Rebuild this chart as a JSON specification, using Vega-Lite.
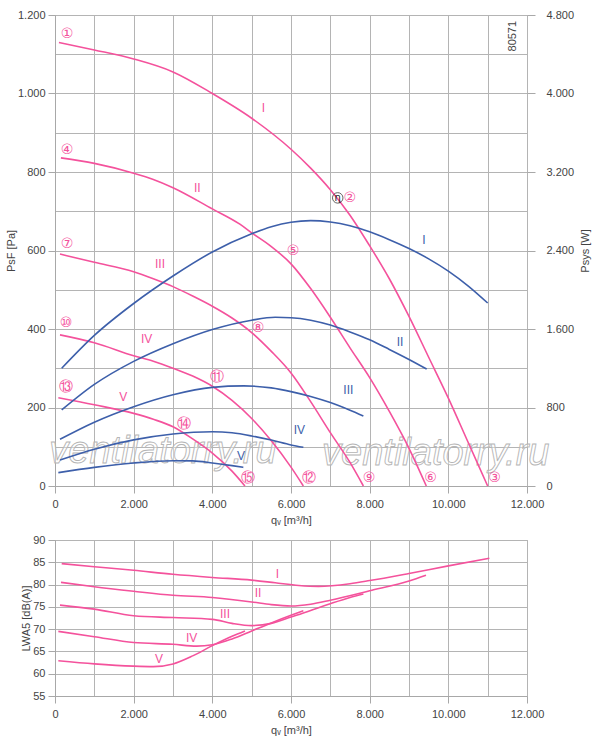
{
  "$schema": "https://vega.github.io/schema/vega-lite/v6.json",
  "background": "white",
  "padding": {"left": 4, "top": 8, "right": 3, "bottom": 5},
  "spacing": 7,
  "datasets": {
    "pres": [
      {"c": "I", "q": 100, "p": 1130}, {"c": "I", "q": 1000, "p": 1111}, {"c": "I", "q": 2000, "p": 1088}, {"c": "I", "q": 3000, "p": 1055}, {"c": "I", "q": 4000, "p": 1000}, {"c": "I", "q": 5000, "p": 937}, {"c": "I", "q": 6000, "p": 858}, {"c": "I", "q": 6500, "p": 810}, {"c": "I", "q": 7000, "p": 755}, {"c": "I", "q": 7500, "p": 690}, {"c": "I", "q": 8000, "p": 612}, {"c": "I", "q": 8500, "p": 528}, {"c": "I", "q": 9000, "p": 432}, {"c": "I", "q": 9500, "p": 328}, {"c": "I", "q": 10000, "p": 224}, {"c": "I", "q": 10500, "p": 112}, {"c": "I", "q": 11000, "p": 0},
      {"c": "II", "q": 150, "p": 836}, {"c": "II", "q": 1000, "p": 822}, {"c": "II", "q": 2000, "p": 797}, {"c": "II", "q": 2500, "p": 781}, {"c": "II", "q": 3000, "p": 760}, {"c": "II", "q": 4000, "p": 706}, {"c": "II", "q": 4700, "p": 667}, {"c": "II", "q": 5000, "p": 645}, {"c": "II", "q": 5500, "p": 610}, {"c": "II", "q": 6000, "p": 566}, {"c": "II", "q": 6500, "p": 503}, {"c": "II", "q": 7000, "p": 430}, {"c": "II", "q": 7500, "p": 352}, {"c": "II", "q": 8000, "p": 276}, {"c": "II", "q": 8500, "p": 190}, {"c": "II", "q": 9000, "p": 96}, {"c": "II", "q": 9440, "p": 0},
      {"c": "III", "q": 127, "p": 591}, {"c": "III", "q": 1000, "p": 570}, {"c": "III", "q": 2000, "p": 546}, {"c": "III", "q": 2500, "p": 528}, {"c": "III", "q": 3000, "p": 508}, {"c": "III", "q": 3500, "p": 484}, {"c": "III", "q": 4000, "p": 458}, {"c": "III", "q": 4500, "p": 428}, {"c": "III", "q": 5000, "p": 391}, {"c": "III", "q": 5500, "p": 343}, {"c": "III", "q": 6000, "p": 288}, {"c": "III", "q": 6500, "p": 215}, {"c": "III", "q": 7000, "p": 136}, {"c": "III", "q": 7500, "p": 60}, {"c": "III", "q": 7840, "p": 0},
      {"c": "IV", "q": 127, "p": 385}, {"c": "IV", "q": 1000, "p": 365}, {"c": "IV", "q": 2000, "p": 332}, {"c": "IV", "q": 2500, "p": 318}, {"c": "IV", "q": 3000, "p": 300}, {"c": "IV", "q": 3500, "p": 280}, {"c": "IV", "q": 4000, "p": 254}, {"c": "IV", "q": 4500, "p": 218}, {"c": "IV", "q": 5000, "p": 172}, {"c": "IV", "q": 5500, "p": 115}, {"c": "IV", "q": 6000, "p": 48}, {"c": "IV", "q": 6314, "p": 0},
      {"c": "V", "q": 85, "p": 225}, {"c": "V", "q": 1000, "p": 207}, {"c": "V", "q": 2000, "p": 185}, {"c": "V", "q": 2500, "p": 170}, {"c": "V", "q": 3000, "p": 151}, {"c": "V", "q": 3500, "p": 120}, {"c": "V", "q": 4000, "p": 84}, {"c": "V", "q": 4500, "p": 38}, {"c": "V", "q": 4830, "p": 0}
    ],
    "pow": [
      {"c": "I", "q": 170, "w": 1200}, {"c": "I", "q": 1000, "w": 1535}, {"c": "I", "q": 2000, "w": 1860}, {"c": "I", "q": 3000, "w": 2140}, {"c": "I", "q": 4000, "w": 2385}, {"c": "I", "q": 5000, "w": 2570}, {"c": "I", "q": 5500, "w": 2642}, {"c": "I", "q": 6000, "w": 2688}, {"c": "I", "q": 6500, "w": 2704}, {"c": "I", "q": 7000, "w": 2690}, {"c": "I", "q": 7500, "w": 2652}, {"c": "I", "q": 8000, "w": 2590}, {"c": "I", "q": 8500, "w": 2510}, {"c": "I", "q": 9000, "w": 2420}, {"c": "I", "q": 9500, "w": 2315}, {"c": "I", "q": 10000, "w": 2190}, {"c": "I", "q": 10500, "w": 2040}, {"c": "I", "q": 11000, "w": 1865},
      {"c": "II", "q": 170, "w": 775}, {"c": "II", "q": 1000, "w": 1035}, {"c": "II", "q": 2000, "w": 1270}, {"c": "II", "q": 3000, "w": 1450}, {"c": "II", "q": 4000, "w": 1595}, {"c": "II", "q": 5000, "w": 1690}, {"c": "II", "q": 5600, "w": 1719}, {"c": "II", "q": 6000, "w": 1715}, {"c": "II", "q": 6500, "w": 1690}, {"c": "II", "q": 7000, "w": 1640}, {"c": "II", "q": 7500, "w": 1570}, {"c": "II", "q": 8000, "w": 1490}, {"c": "II", "q": 8500, "w": 1392}, {"c": "II", "q": 9000, "w": 1290}, {"c": "II", "q": 9450, "w": 1192},
      {"c": "III", "q": 127, "w": 476}, {"c": "III", "q": 1000, "w": 650}, {"c": "III", "q": 2000, "w": 808}, {"c": "III", "q": 3000, "w": 930}, {"c": "III", "q": 4000, "w": 1005}, {"c": "III", "q": 4800, "w": 1020}, {"c": "III", "q": 5500, "w": 1000}, {"c": "III", "q": 6000, "w": 962}, {"c": "III", "q": 6500, "w": 912}, {"c": "III", "q": 7000, "w": 850}, {"c": "III", "q": 7500, "w": 772}, {"c": "III", "q": 7840, "w": 713},
      {"c": "IV", "q": 127, "w": 265}, {"c": "IV", "q": 1000, "w": 375}, {"c": "IV", "q": 2000, "w": 470}, {"c": "IV", "q": 3000, "w": 530}, {"c": "IV", "q": 4000, "w": 553}, {"c": "IV", "q": 4500, "w": 542}, {"c": "IV", "q": 5000, "w": 510}, {"c": "IV", "q": 5500, "w": 468}, {"c": "IV", "q": 6000, "w": 418}, {"c": "IV", "q": 6314, "w": 394},
      {"c": "V", "q": 85, "w": 136}, {"c": "V", "q": 1000, "w": 190}, {"c": "V", "q": 2000, "w": 235}, {"c": "V", "q": 3000, "w": 258}, {"c": "V", "q": 3500, "w": 256}, {"c": "V", "q": 4000, "w": 235}, {"c": "V", "q": 4500, "w": 208}, {"c": "V", "q": 4788, "w": 190}
    ],
    "snd": [
      {"c": "I", "q": 170, "db": 84.7}, {"c": "I", "q": 1000, "db": 84.0}, {"c": "I", "q": 2000, "db": 83.2}, {"c": "I", "q": 3000, "db": 82.3}, {"c": "I", "q": 4000, "db": 81.6}, {"c": "I", "q": 5000, "db": 81.0}, {"c": "I", "q": 5600, "db": 80.4}, {"c": "I", "q": 6200, "db": 79.8}, {"c": "I", "q": 6700, "db": 79.6}, {"c": "I", "q": 7500, "db": 80.2}, {"c": "I", "q": 8000, "db": 80.9}, {"c": "I", "q": 9000, "db": 82.5}, {"c": "I", "q": 10000, "db": 84.2}, {"c": "I", "q": 11043, "db": 85.9},
      {"c": "II", "q": 152, "db": 80.5}, {"c": "II", "q": 1000, "db": 79.5}, {"c": "II", "q": 2000, "db": 78.5}, {"c": "II", "q": 3000, "db": 77.6}, {"c": "II", "q": 4000, "db": 77.1}, {"c": "II", "q": 5000, "db": 76.1}, {"c": "II", "q": 5500, "db": 75.5}, {"c": "II", "q": 6000, "db": 75.2}, {"c": "II", "q": 6500, "db": 75.6}, {"c": "II", "q": 7000, "db": 76.5}, {"c": "II", "q": 8000, "db": 78.6}, {"c": "II", "q": 9000, "db": 80.8}, {"c": "II", "q": 9432, "db": 82.1},
      {"c": "III", "q": 127, "db": 75.4}, {"c": "III", "q": 1000, "db": 74.5}, {"c": "III", "q": 2000, "db": 73.0}, {"c": "III", "q": 3000, "db": 72.6}, {"c": "III", "q": 4000, "db": 72.2}, {"c": "III", "q": 4500, "db": 71.3}, {"c": "III", "q": 5000, "db": 70.8}, {"c": "III", "q": 5500, "db": 71.3}, {"c": "III", "q": 6000, "db": 72.7}, {"c": "III", "q": 6500, "db": 74.2}, {"c": "III", "q": 7000, "db": 75.7}, {"c": "III", "q": 7500, "db": 77.1}, {"c": "III", "q": 7840, "db": 77.9},
      {"c": "IV", "q": 85, "db": 69.5}, {"c": "IV", "q": 1000, "db": 68.3}, {"c": "IV", "q": 2000, "db": 67.0}, {"c": "IV", "q": 3000, "db": 66.6}, {"c": "IV", "q": 3600, "db": 66.2}, {"c": "IV", "q": 4000, "db": 66.5}, {"c": "IV", "q": 4500, "db": 67.8}, {"c": "IV", "q": 5000, "db": 69.6}, {"c": "IV", "q": 5500, "db": 71.4}, {"c": "IV", "q": 6000, "db": 73.1}, {"c": "IV", "q": 6314, "db": 74.1},
      {"c": "V", "q": 85, "db": 62.9}, {"c": "V", "q": 1000, "db": 62.2}, {"c": "V", "q": 2000, "db": 61.7}, {"c": "V", "q": 2500, "db": 61.6}, {"c": "V", "q": 3000, "db": 62.2}, {"c": "V", "q": 3500, "db": 64.0}, {"c": "V", "q": 4000, "db": 66.3}, {"c": "V", "q": 4500, "db": 68.4}, {"c": "V", "q": 4830, "db": 69.6}
    ],
    "plab": [
      {"t": "I", "q": 5296, "p": 962}, {"t": "II", "q": 3618, "p": 758}, {"t": "III", "q": 2670, "p": 566}, {"t": "IV", "q": 2331, "p": 374}, {"t": "V", "q": 1737, "p": 228}
    ],
    "nums": [
      {"t": "①", "q": 305, "p": 1152}, {"t": "②", "q": 7493, "p": 734}, {"t": "③", "q": 11176, "p": 20},
      {"t": "④", "q": 305, "p": 856}, {"t": "⑤", "q": 6051, "p": 599}, {"t": "⑥", "q": 9550, "p": 20},
      {"t": "⑦", "q": 305, "p": 617}, {"t": "⑧", "q": 5161, "p": 403}, {"t": "⑨", "q": 7983, "p": 20},
      {"t": "⑩", "q": 280, "p": 415}, {"t": "⑪", "q": 4119, "p": 278}, {"t": "⑫", "q": 6459, "p": 20},
      {"t": "⑬", "q": 280, "p": 252}, {"t": "⑭", "q": 3280, "p": 158}, {"t": "⑮", "q": 4910, "p": 20}
    ],
    "eta": [{"t": "η", "q": 7188, "p": 734}],
    "wm": [{"t": "ventilatorry.ru", "q": 2745, "p": 58}, {"t": "ventilatorry.ru", "q": 9680, "p": 53}],
    "code": [{"t": "80571", "q": 11633, "p": 1146}],
    "blab": [
      {"t": "I", "q": 9382, "w": 2507}, {"t": "II", "q": 8772, "w": 1470}, {"t": "III", "q": 7458, "w": 978}, {"t": "IV", "q": 6212, "w": 571}, {"t": "V", "q": 4729, "w": 306}
    ],
    "slab": [
      {"t": "I", "q": 5652, "db": 82.4}, {"t": "II", "q": 5160, "db": 78.0}, {"t": "III", "q": 4322, "db": 73.3}, {"t": "IV", "q": 3475, "db": 68.1}, {"t": "V", "q": 2644, "db": 63.2}
    ]
  },
  "vconcat": [
    {
      "width": 472,
      "height": 471,
      "layer": [
        {
          "layer": [
            {
              "data": {"name": "wm"},
              "mark": {"type": "text", "font": "Liberation Sans", "fontStyle": "italic", "fontSize": 38, "color": "white", "fillOpacity": 0.4, "stroke": "#b5b5b5", "strokeWidth": 0.9, "baseline": "alphabetic"},
              "encoding": {
                "x": {"field": "q", "type": "quantitative", "scale": {"domain": [0, 12000], "nice": false},
                  "axis": {"tickCount": 12, "format": ",d", "labelFlush": false, "labelExpr": "datum.value % 2000 == 0 ? datum.label : ''", "tickSize": 7, "tickColor": {"condition": {"test": "datum.value % 2000 == 0", "value": "#a8a8a8"}, "value": "transparent"}, "title": "qᵥ [m³/h]", "labelPadding": 5, "titlePadding": 5}},
                "y": {"field": "p", "type": "quantitative", "scale": {"domain": [0, 1200], "nice": false},
                  "axis": {"tickCount": 12, "format": ",d", "labelExpr": "datum.value % 200 == 0 ? datum.label : ''", "tickSize": 7, "tickColor": {"condition": {"test": "datum.value % 200 == 0", "value": "#a8a8a8"}, "value": "transparent"}, "labelPadding": 3, "title": "PsF [Pa]", "titlePadding": 1}},
                "text": {"field": "t"}
              }
            },
            {
              "data": {"name": "pres"},
              "mark": {"type": "line", "color": "#f4529c", "strokeWidth": 1.6, "interpolate": "monotone"},
              "encoding": {
                "x": {"field": "q", "type": "quantitative"},
                "y": {"field": "p", "type": "quantitative"},
                "detail": {"field": "c"}
              }
            },
            {
              "data": {"name": "plab"},
              "mark": {"type": "text", "color": "#f4529c", "font": "Liberation Sans", "fontSize": 12},
              "encoding": {"x": {"field": "q", "type": "quantitative"}, "y": {"field": "p", "type": "quantitative"}, "text": {"field": "t"}}
            },
            {
              "data": {"name": "nums"},
              "mark": {"type": "text", "color": "#f4529c", "font": "DejaVu Sans", "fontSize": 14},
              "encoding": {"x": {"field": "q", "type": "quantitative"}, "y": {"field": "p", "type": "quantitative"}, "text": {"field": "t"}}
            },
            {
              "data": {"name": "eta"},
              "mark": {"type": "point", "shape": "circle", "size": 110, "color": "#222", "strokeWidth": 1, "filled": false},
              "encoding": {"x": {"field": "q", "type": "quantitative"}, "y": {"field": "p", "type": "quantitative"}}
            },
            {
              "data": {"name": "eta"},
              "mark": {"type": "text", "color": "#222", "font": "DejaVu Sans", "fontSize": 10},
              "encoding": {"x": {"field": "q", "type": "quantitative"}, "y": {"field": "p", "type": "quantitative"}, "text": {"field": "t"}}
            },
            {
              "data": {"name": "code"},
              "mark": {"type": "text", "color": "#444", "font": "Liberation Sans", "fontSize": 11, "angle": 270},
              "encoding": {"x": {"field": "q", "type": "quantitative"}, "y": {"field": "p", "type": "quantitative"}, "text": {"field": "t"}}
            }
          ]
        },
        {
          "layer": [
            {
              "data": {"name": "pow"},
              "mark": {"type": "line", "color": "#3d5faa", "strokeWidth": 1.6, "interpolate": "monotone"},
              "encoding": {
                "x": {"field": "q", "type": "quantitative"},
                "y": {"field": "w", "type": "quantitative", "scale": {"domain": [0, 4800], "nice": false},
                  "axis": {"orient": "right", "values": [0, 800, 1600, 2400, 3200, 4000, 4800], "grid": false, "domain": false, "tickSize": 8, "labelPadding": 11, "format": ",d", "title": "Psys [W]", "titleAngle": 270, "titleBaseline": "top", "titlePadding": 6}},
                "detail": {"field": "c"}
              }
            },
            {
              "data": {"name": "blab"},
              "mark": {"type": "text", "color": "#3d5faa", "font": "Liberation Sans", "fontSize": 12},
              "encoding": {"x": {"field": "q", "type": "quantitative"}, "y": {"field": "w", "type": "quantitative"}, "text": {"field": "t"}}
            }
          ]
        }
      ],
      "resolve": {"scale": {"y": "independent"}}
    },
    {
      "width": 472,
      "height": 156,
      "layer": [
        {
          "data": {"name": "snd"},
          "mark": {"type": "line", "color": "#f4529c", "strokeWidth": 1.6, "interpolate": "monotone"},
          "encoding": {
            "x": {"field": "q", "type": "quantitative", "scale": {"domain": [0, 12000], "nice": false},
              "axis": {"tickCount": 12, "format": ",d", "labelFlush": false, "labelExpr": "datum.value % 2000 == 0 ? datum.label : ''", "tickSize": 7, "tickColor": {"condition": {"test": "datum.value % 2000 == 0", "value": "#a8a8a8"}, "value": "transparent"}, "title": "qᵥ [m³/h]", "labelPadding": 5, "titlePadding": 5}},
            "y": {"field": "db", "type": "quantitative", "scale": {"domain": [55, 90], "nice": false},
              "axis": {"tickCount": 7, "format": "d", "tickSize": 7, "labelPadding": 3, "title": "LWA5 [dB(A)]", "titlePadding": 1}},
            "detail": {"field": "c"}
          }
        },
        {
          "data": {"name": "slab"},
          "mark": {"type": "text", "color": "#f4529c", "font": "Liberation Sans", "fontSize": 12},
          "encoding": {"x": {"field": "q", "type": "quantitative"}, "y": {"field": "db", "type": "quantitative"}, "text": {"field": "t"}}
        }
      ]
    }
  ],
  "config": {
    "locale": {"number": {"decimal": ",", "thousands": ".", "grouping": [3], "currency": ["", " €"]}},
    "view": {"stroke": "#a8a8a8"},
    "axis": {
      "gridColor": "#b4b4b4",
      "gridWidth": 1,
      "gridOpacity": 1,
      "domainColor": "#a8a8a8",
      "tickColor": "#a8a8a8",
      "labelFont": "Liberation Sans",
      "labelFontSize": 11,
      "labelColor": "#444",
      "titleFont": "Liberation Sans",
      "titleFontSize": 11,
      "titleFontWeight": "normal",
      "titleColor": "#444"
    }
  }
}
